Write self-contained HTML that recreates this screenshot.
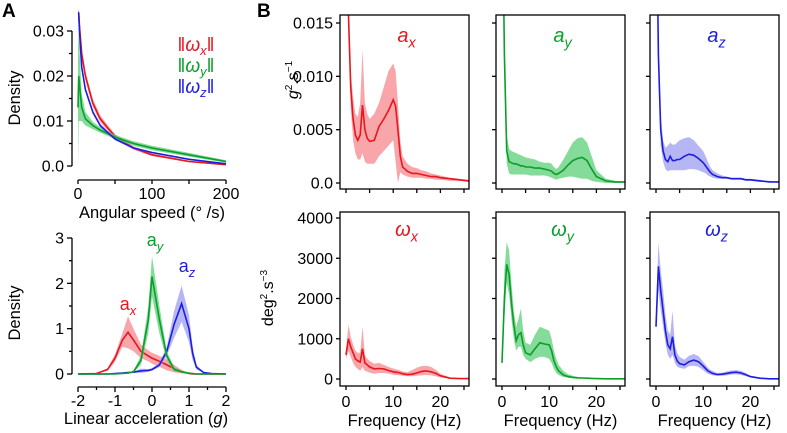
<!DOCTYPE html>
<html><head><meta charset="utf-8">
<style>
html,body{margin:0;padding:0;background:#fff;}
svg{display:block;font-family:"Liberation Sans",Arial,sans-serif;}
</style></head>
<body>
<svg id="fig" width="787" height="433" viewBox="0 0 787 433" xmlns="http://www.w3.org/2000/svg">
<text x="2" y="17" font-size="19" font-weight="bold">A</text>
<text x="257" y="17" font-size="19" font-weight="bold">B</text>
</svg>
<script>
// ---------- Panel A top data ----------
const angX = [0,1,2,5,10,20,30,40,50,75,100,150,200];
const angRed = [.034,.034,.031,.025,.02,.014,.0105,.0085,.0066,.004,.0025,.001,.0003];
const angGreen = [.013,.02,.018,.013,.0105,.009,.008,.0072,.0064,.005,.004,.0025,.001];
const angBlue = [.034,.034,.03,.022,.017,.012,.009,.0075,.006,.004,.003,.0015,.0005];
const angRedHW = [.001,.001,.001,.001,.001,.0009,.0008,.0006,.0005,.0004,.0003,.0002,.0001];
const angGreenHW = [.013,.01,.008,.003,.0015,.0008,.0006,.0005,.0005,.0005,.0005,.0004,.0003];
const angBlueHW = [.0005,.0005,.0005,.0005,.0005,.0004,.0004,.0003,.0003,.0002,.0002,.0001,.0001];
const angYTicks = ["0.0","0.01","0.02","0.03"];
const angXTicks = ["0","100","200"];
// ---------- Panel A bottom data ----------
const accX = [-2,-1.5,-1.2,-1,-0.8,-0.65,-0.5,-0.3,-0.1,0,0.2,0.4,0.6,0.8,1,1.1,1.2,1.4,1.6,2];
const accAx = [0,0.01,0.1,0.35,0.75,0.92,0.75,0.5,0.4,0.35,0.28,0.2,0.12,0.05,0.01,0,0,0,0,0];
const accAxHW = [0,0,0.03,0.08,0.15,0.35,0.25,0.15,0.12,0.12,0.12,0.12,0.08,0.04,0,0,0,0,0,0];
const accAy = [0,0,0,0,0.01,0.02,0.05,0.3,1.2,2.15,1.2,0.4,0.1,0.05,0.02,0.01,0,0,0,0];
const accAyHW = [0,0,0,0,0,0,0.02,0.1,0.3,0.45,0.3,0.1,0.05,0.02,0,0,0,0,0,0];
const accAz = [0,0,0,0.01,0.02,0.03,0.04,0.07,0.08,0.1,0.2,0.5,1.1,1.55,1.0,0.45,0.15,0.03,0.01,0];
const accAzHW = [0,0,0,0,0,0,0.01,0.05,0.03,0.03,0.05,0.1,0.3,0.4,0.3,0.15,0.05,0,0,0];
const accYTicks = ["0","1","2","3"];
const accXTicks = ["-2","-1","0","1","2"];
// ---------- Panel B data ----------
const freq = [0,.5,1,1.5,2,2.5,3,3.5,4,4.5,5,6,7,8,9,10,10.5,11,11.5,12,13,14,15,16,17,18,19,20,22,24,26];
const axMean = [.03,.016,.009,.006,.0045,.004,.0045,.0073,.005,.0042,.0039,.004,.0053,.006,.0068,.0078,.0072,.005,.0025,.0015,.0011,.0009,.0009,.0008,.0007,.0006,.0006,.0005,.0004,.0003,.0002];
const axHi = [.03,.017,.0105,.008,.0065,.0062,.0075,.0125,.0075,.0065,.006,.0065,.0075,.009,.0105,.0112,.0105,.0075,.004,.0025,.0018,.0015,.0014,.0012,.0011,.0009,.0008,.0007,.0005,.0004,.0003];
const axLo = [.03,.015,.007,.004,.0028,.0022,.0022,.0028,.002,.0018,.0018,.0018,.0025,.003,.0035,.004,.002,0,.001,.0008,.0006,.0005,.0005,.0005,.0004,.0004,.0003,.0003,.0002,.0002,.0001];
const ayMean = [.03,.012,.003,.002,.0019,.0018,.0018,.0017,.0016,.0016,.0015,.0015,.0014,.0014,.0013,.0012,.0011,.0009,.0008,.0009,.0012,.0017,.0021,.0023,.0024,.0021,.0013,.0006,.0002,.0001,.0001];
const ayHi = [.03,.014,.0045,.0032,.003,.0029,.0028,.0027,.0026,.0025,.0024,.0023,.0022,.002,.0019,.0019,.0018,.0015,.0013,.0015,.0022,.003,.0038,.0042,.0043,.0038,.0025,.0012,.0004,.0002,.0001];
const ayLo = [.03,.01,.0018,.0009,.0008,.0008,.0008,.0008,.0008,.0008,.0008,.0007,.0007,.0007,.0007,.0006,.0005,.0004,.0003,.0004,.0005,.0006,.0006,.0005,.0004,.0004,.0002,.0001,0,0,0];
const azMean = [.03,.012,.005,.003,.0022,.002,.0025,.0021,.0021,.0022,.0022,.0025,.0027,.0026,.0023,.0019,.0016,.0013,.001,.0008,.0006,.0005,.0005,.0004,.0004,.0004,.0003,.0003,.0002,.0001,.0001];
const azHi = [.03,.013,.0065,.004,.0033,.0035,.0038,.0036,.0036,.0038,.004,.0042,.0043,.004,.0035,.003,.0025,.002,.0015,.0012,.0009,.0007,.0006,.0005,.0005,.0005,.0004,.0004,.0003,.0002,.0001];
const azLo = [.03,.011,.0035,.002,.0013,.0011,.0012,.0012,.0012,.0012,.0012,.0012,.0013,.0013,.0012,.001,.0009,.0007,.0006,.0005,.0004,.0004,.0004,.0003,.0003,.0003,.0002,.0002,.0001,.0001,0];
const wxMean = [600,1000,800,650,500,450,420,750,400,350,300,250,260,250,210,180,170,165,150,130,110,120,150,190,200,180,140,80,20,10,10];
const wxHi = [700,1350,1050,850,700,650,650,1300,600,500,450,380,400,350,300,260,240,230,210,190,170,220,280,320,330,300,230,130,40,15,10];
const wxLo = [500,700,550,400,300,250,200,300,200,180,160,130,150,150,130,110,100,100,90,80,70,70,80,90,100,90,70,40,10,5,5];
const wyMean = [400,2000,2850,2600,1900,1350,950,1100,1150,850,650,600,750,900,870,850,700,450,300,200,100,60,40,30,25,20,15,10,5,5,5];
const wyHi = [500,2700,3400,3200,2400,1700,1300,1500,1750,1200,900,850,1100,1300,1250,1200,1000,700,500,350,200,120,80,50,40,30,20,15,10,5,5];
const wyLo = [400,1500,2400,2100,1500,1000,700,800,800,600,500,420,500,550,550,500,400,250,150,100,50,30,20,15,10,10,5,5,5,5,5];
const wzMean = [1300,2800,2200,1700,1200,850,750,1050,600,450,380,350,430,470,430,320,260,200,170,140,110,120,140,160,170,150,110,60,20,5,5];
const wzHi = [1400,3400,2700,2200,1600,1200,1100,1700,850,650,550,480,580,620,570,430,350,280,230,200,150,160,190,210,220,200,150,80,30,10,5];
const wzLo = [1200,2200,1700,1300,900,600,500,600,400,300,280,250,320,330,300,220,170,130,110,90,80,80,90,110,120,100,70,40,10,5,5];
const accPsdTicks = ["0.0","0.005","0.010","0.015"];
const gyroPsdTicks = ["0","1000","2000","3000","4000"];
const freqTicks = ["0","10","20"];

const NS="http://www.w3.org/2000/svg";
const svg=document.getElementById('fig');
const RED="#e8161e",GREEN="#0b9e2b",BLUE="#1d1de0";
const RED_F="#f5888c",GREEN_F="#5ccf77",BLUE_F="#9d9dF2";
function mk(tag,attrs,parent){const e=document.createElementNS(NS,tag);for(const k in attrs)e.setAttribute(k,attrs[k]);(parent||svg).appendChild(e);return e;}
function lin(d0,d1,r0,r1){return v=>r0+(v-d0)*(r1-r0)/(d1-d0);}
function linePath(xs,ys,sx,sy){return xs.map((x,i)=>(i?'L':'M')+sx(x).toFixed(1)+' '+sy(ys[i]).toFixed(1)).join(' ');}
function bandPath(xs,lo,hi,sx,sy){let p=xs.map((x,i)=>(i?'L':'M')+sx(x).toFixed(1)+' '+sy(hi[i]).toFixed(1)).join(' ');for(let i=xs.length-1;i>=0;i--)p+='L'+sx(xs[i]).toFixed(1)+' '+sy(lo[i]).toFixed(1);return p+'Z';}
let clipN=0;
function clip(x,y,w,h){const id='c'+(clipN++);const cp=mk('clipPath',{id:id});mk('rect',{x:x,y:y,width:w,height:h},cp);return 'url(#'+id+')';}
function series(name,xs,mean,lo,hi,sx,sy,col,fill,cp){
  const g=mk('g',{'clip-path':cp});
  
  
  const b=mk('path',{d:bandPath(xs,lo,hi,sx,sy),fill:fill,'fill-opacity':0.75,stroke:'none'},g);
  
  
  const l=mk('path',{d:linePath(xs,mean,sx,sy),fill:'none',stroke:col,'stroke-width':1.6},g);
  
  
}
function txt(s,x,y,size,anchor,name,extra){const t=mk('text',Object.assign({x:x,y:y,'font-size':size,'text-anchor':anchor||'start'},extra||{}));t.textContent=s;
  
  
  return t;}
function subLabel(base,sub,x,y,col,size,name,norm){
  const t=mk('text',{x:x,y:y,'font-size':size,'text-anchor':'middle',fill:col});
  
  
  const a=mk('tspan',{'font-style':norm?'normal':'italic'},t);a.textContent=base;
  const b=mk('tspan',{'font-style':'italic','font-size':size*0.72,dy:size*0.28},t);b.textContent=sub;
  return t;}
function hline(x1,y1,x2,y2,name,w){const l=mk('line',{x1:x1,y1:y1,x2:x2,y2:y2,stroke:'#000','stroke-width':w||1.3});
  
  return l;}

// ===== Panel A top =====
(function(){
  const sx=lin(0,200,78,226), sy=lin(0,0.03,166,31);
  const cp=clip(74,10,160,158);
  series('ang-red',angX,angRed,angRed.map((v,i)=>v-angRedHW[i]),angRed.map((v,i)=>v+angRedHW[i]),sx,sy,RED,RED_F,cp);
  series('ang-green',angX,angGreen,angGreen.map((v,i)=>Math.max(0,v-angGreenHW[i])),angGreen.map((v,i)=>v+angGreenHW[i]),sx,sy,GREEN,GREEN_F,cp);
  series('ang-blue',angX,angBlue,angBlue.map((v,i)=>v-angBlueHW[i]),angBlue.map((v,i)=>v+angBlueHW[i]),sx,sy,BLUE,BLUE_F,cp);
  hline(72,sy(0.03),72,sy(0),'ang-y-axis');
  for(let v=0;v<=0.0301;v+=0.005){const major=Math.abs(v/0.01-Math.round(v/0.01))<1e-6;hline(major?67:69,sy(v),72,sy(v),'ang-y-tick');}
  angYTicks.forEach((s,i)=>txt(s,64,sy(i*0.01)+5.5,16,'end','ang-y-tick-label'));
  hline(sx(0),180,sx(200),180,'ang-x-axis');
  for(let v=0;v<=200;v+=50)hline(sx(v),180,sx(v),184,'ang-x-tick');
  angXTicks.forEach((s,i)=>txt(s,sx(i*100),199,16,'middle','ang-x-tick-label'));
  txt('Angular speed (° /s)',152,218,16.5,'middle','ang-x-title');
  txt('Density',20,98,16.5,'middle','ang-y-title',{transform:'rotate(-90 20 98)'});
  const leg=[['x',RED,51],['y',GREEN,72],['z',BLUE,93]];
  leg.forEach(([s,c,y])=>{const t=mk('text',{x:196,y:y,'font-size':19,'text-anchor':'middle',fill:c});
    
    
    const a=mk('tspan',{},t);a.textContent='‖';const b=mk('tspan',{'font-style':'italic'},t);b.textContent='ω';
    const d=mk('tspan',{'font-style':'italic','font-size':13,dy:4},t);d.textContent=s;const e=mk('tspan',{dy:-4},t);e.textContent='‖';});
})();

// ===== Panel A bottom =====
(function(){
  const sx=lin(-2,2,78,226), sy=lin(0,3,374,238);
  const cp=clip(74,230,160,150);
  series('acc-ax',accX,accAx,accAx.map((v,i)=>Math.max(0,v-accAxHW[i])),accAx.map((v,i)=>v+accAxHW[i]),sx,sy,RED,RED_F,cp);
  series('acc-az',accX,accAz,accAz.map((v,i)=>Math.max(0,v-accAzHW[i])),accAz.map((v,i)=>v+accAzHW[i]),sx,sy,BLUE,BLUE_F,cp);
  series('acc-ay',accX,accAy,accAy.map((v,i)=>Math.max(0,v-accAyHW[i])),accAy.map((v,i)=>v+accAyHW[i]),sx,sy,GREEN,GREEN_F,cp);
  hline(72,sy(3),72,sy(0),'acc-y-axis');
  for(let v=0;v<=3.001;v+=0.5){const major=Math.abs(v-Math.round(v))<1e-6;hline(major?67:69,sy(v),72,sy(v),'acc-y-tick');}
  accYTicks.forEach((s,i)=>txt(s,64,sy(i)+5.5,16,'end','acc-y-tick-label'));
  hline(sx(-2),387,sx(2),387,'acc-x-axis');
  for(let v=-2;v<=2.001;v+=0.5){const major=Math.abs(v-Math.round(v))<1e-6;hline(sx(v),387,sx(v),major?392:390,'acc-x-tick');}
  accXTicks.forEach((s,i)=>txt(s,sx(i-2),406,16,'middle','acc-x-tick-label'));
  const tt=txt('Linear acceleration (',146,424,16.5,'middle','acc-x-title');
  const g=mk('tspan',{'font-style':'italic'},tt);g.textContent='g';const c=mk('tspan',{},tt);c.textContent=')';
  txt('Density',20,313,16.5,'middle','acc-y-title',{transform:'rotate(-90 20 313)'});
  subLabel('a','x',128,310,RED,18,'acc-label-ax',true);
  subLabel('a','y',155,246,GREEN,18,'acc-label-ay',true);
  subLabel('a','z',187,272,BLUE,18,'acc-label-az',true);
})();

// ===== Panel B =====
const frames=[340,496,650], FW=129;
const accSets=[[axMean,axLo,axHi,RED,RED_F,'x'],[ayMean,ayLo,ayHi,GREEN,GREEN_F,'y'],[azMean,azLo,azHi,BLUE,BLUE_F,'z']];
const gyrSets=[[wxMean,wxLo,wxHi,RED,RED_F,'x'],[wyMean,wyLo,wyHi,GREEN,GREEN_F,'y'],[wzMean,wzLo,wzHi,BLUE,BLUE_F,'z']];
function psdPanel(fx,top,bot,y0,y1,ymax,sets,idx,tickVals,tickLabels,isBottom,title,unitName){
  const sx=lin(0,5,fx+6,fx+6+23.6), sy=lin(0,ymax,y0,y1);
  const cp=clip(fx,top,FW,bot-top);
  const [m,lo,hi,col,fill,s]=sets[idx];
  series(unitName+'-'+s+'-psd',freq,m,lo,hi,sx,sy,col,fill,cp);
  const fr=mk('rect',{x:fx,y:top,width:FW,height:bot-top,fill:'none',stroke:'#000','stroke-width':1.3});
  
  
  tickVals.forEach(v=>hline(fx-4,sy(v),fx,sy(v),'psd-y-tick'));
  if(idx===0)tickLabels.forEach((l,i)=>txt(l,fx-7,sy(tickVals[i])+5.5,16,'end','psd-y-tick-label'));
  for(let f=0;f<=25;f+=5)hline(sx(f),bot,sx(f),bot+4,'psd-x-tick');
  if(isBottom){freqTicks.forEach(l=>txt(l,sx(+l),407,16,'middle','psd-x-tick-label'));
    txt('Frequency (Hz)',fx+FW/2,426,16.5,'middle','psd-x-title');}
  subLabel(title,s,fx+FW/2+2,title==='a'?42:236,col,20,unitName+'-title-'+s,false);
}
for(let i=0;i<3;i++){
  psdPanel(frames[i],15,189,183,23,0.015,accSets,i,[0,0.005,0.01,0.015],accPsdTicks,false,'a','acc');
  psdPanel(frames[i],212,386,379,218,4000,gyrSets,i,[0,1000,2000,3000,4000],gyroPsdTicks,true,'ω','gyro');
}
// y titles
(function(){
  const t=mk('text',{'font-size':16,'text-anchor':'middle',transform:'translate(298 80) rotate(-90)'});
  
  
  const a=mk('tspan',{'font-style':'italic'},t);a.textContent='g';
  const b=mk('tspan',{'font-size':10,dy:-6},t);b.textContent='2';
  const c=mk('tspan',{dy:6},t);c.textContent='.s';
  const d=mk('tspan',{'font-size':10,dy:-6},t);d.textContent='−1';
  const t2=mk('text',{'font-size':16,'text-anchor':'middle',transform:'translate(273 298) rotate(-90)'});
  
  
  const e=mk('tspan',{},t2);e.textContent='deg';
  const f=mk('tspan',{'font-size':10,dy:-6},t2);f.textContent='2';
  const g=mk('tspan',{dy:6},t2);g.textContent='.s';
  const h=mk('tspan',{'font-size':10,dy:-6},t2);h.textContent='−3';
})();
</script>
</body></html>
